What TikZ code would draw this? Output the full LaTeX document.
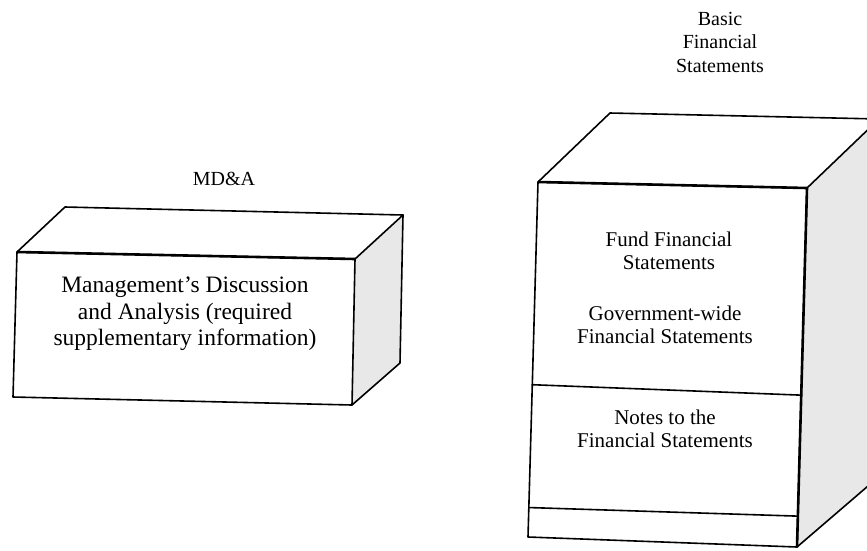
\documentclass[tikz,border=0pt]{standalone}
\usepackage{fontspec}
\setmainfont{Liberation Serif}
\usetikzlibrary{calc}
\tikzset{
  edge/.style={line width=1.6pt, line join=round, line cap=round},
  side/.style={fill=black!9},
  boxtext/.style={align=center, inner sep=0pt},
  labeltext/.style={align=center, inner sep=0pt, font=\fontsize{20}{23.5}\selectfont},
}
\begin{document}
\begin{tikzpicture}[x=1pt,y=-1pt]
\useasboundingbox (0,0) rectangle (867,550);
% ---------- left box (MD&A) ----------
\coordinate (lFTL) at (17,252);
\coordinate (lFTR) at (355,259);
\coordinate (lFBR) at (352,405);
\coordinate (lFBL) at (13,397);
\coordinate (lBTL) at (65,207);
\coordinate (lBTR) at (403,215);
\coordinate (lBBR) at (400,363);
\fill[side] (lFTR) -- (lBTR) -- (lBBR) -- (lFBR) -- cycle;
\draw[edge] (lFTL) -- (lBTL) -- (lBTR) -- (lFTR);
\draw[edge] (lBTR) -- (lBBR) -- (lFBR);
\draw[edge] (lFTL) -- (lFTR) -- (lFBR) -- (lFBL) -- cycle;
\draw[line width=2.6pt] (lFTL) -- (lFTR);
\node[labeltext] (mdna) at (224,179) {MD\&A};
\node[boxtext, font=\fontsize{23.5}{26.5}\selectfont] (mdtext) at (185,314)
  {Management’s Discussion\\and Analysis (required\\supplementary information)};
% ---------- right box (Basic Financial Statements) ----------
\begin{scope}
\clip (0,0) rectangle (867,550);
\coordinate (rFTL) at (538,182);
\coordinate (rFTR) at (807,188);
\coordinate (rFBR) at (797,547);
\coordinate (rFBL) at (528,537);
\coordinate (rBTL) at (610,113);
\coordinate (rBTR) at (879,119);
\coordinate (rBBR) at (875,480);
\fill[side] (rFTR) -- (rBTR) -- (rBBR) -- (rFBR) -- cycle;
\draw[edge] (rFTL) -- (rBTL) -- (rBTR) -- (rFTR);
\draw[edge] (rBTR) -- (rBBR) -- (rFBR);
\draw[edge] (rFTL) -- (rFTR) -- (rFBR) -- (rFBL) -- cycle;
\draw[line width=2.6pt] (rFTL) -- (rFTR);
\draw[line width=2.6pt] (rFTR) -- (rFBR);
\coordinate (d1l) at ($(rFTL)!0.571!(rFBL)$);
\coordinate (d1r) at ($(rFTR)!0.577!(rFBR)$);
\coordinate (d2l) at ($(rFTL)!0.917!(rFBL)$);
\coordinate (d2r) at ($(rFTR)!0.914!(rFBR)$);
\draw[edge] (d1l) -- (d1r);
\draw[edge] (d2l) -- (d2r);
\end{scope}
\node[labeltext] (bfs) at (720,42) {Basic\\Financial\\Statements};
\node[boxtext, font=\fontsize{21}{23.5}\selectfont] (fund) at (669,251) {Fund Financial\\Statements};
\node[boxtext, font=\fontsize{21}{23.5}\selectfont] (gov) at (665,325) {Government-wide\\Financial Statements};
\node[boxtext, font=\fontsize{21}{23.5}\selectfont] (notes) at (665,429) {Notes to the\\Financial Statements};
\end{tikzpicture}
\end{document}
